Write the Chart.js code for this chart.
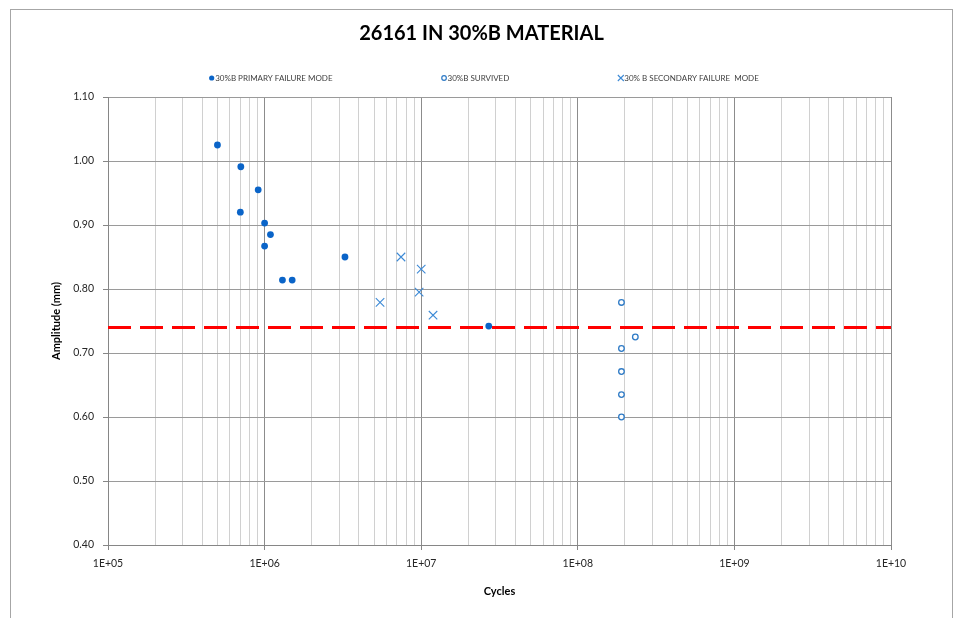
<!DOCTYPE html>
<html>
<head>
<meta charset="utf-8">
<script src="https://cdn.jsdelivr.net/npm/chart.js@4/dist/chart.umd.min.js"></script>
<style>
  html, body { margin: 0; padding: 0; background: #fff; }
  #wrap { width: 954px; height: 618px; position: relative; }
</style>
</head>
<body>
<div id="wrap"><canvas id="sn" width="954" height="618"></canvas></div>
<script>
// Data
const chartTitle = '26161 IN 30%B MATERIAL';
const seriesNames = ['30%B PRIMARY FAILURE MODE', '30%B SURVIVED', '30% B SECONDARY FAILURE  MODE'];

const primaryCycles = [5.0e5, 7.05e5, 9.1e5, 7.0e5, 1.0e6, 1.09e6, 1.0e6, 1.3e6, 1.5e6, 3.26e6, 2.7e7];
const primaryAmp = [1.025, 0.991, 0.955, 0.920, 0.903, 0.885, 0.867, 0.814, 0.814, 0.850, 0.742];

const survivedCycles = [1.9e8, 2.33e8, 1.9e8, 1.9e8, 1.9e8, 1.9e8];
const survivedAmp = [0.779, 0.725, 0.707, 0.671, 0.635, 0.600];

const secondaryCycles = [5.46e6, 7.43e6, 1.0e7, 9.7e6, 1.19e7];
const secondaryAmp = [0.779, 0.850, 0.831, 0.795, 0.759];

const limitAmp = 0.74;

const xMin = 1e5, xMax = 1e10;
const xTickLabels = ['1E+05', '1E+06', '1E+07', '1E+08', '1E+09', '1E+10'];
const yMin = 0.40, yMax = 1.10, yStep = 0.10;

const colPrimary = '#0a64c8';
const colSurvived = '#2f7bc6';
const colSecondary = '#3d8ad6';

const toPts = (xs, ys) => xs.map((x, i) => ({ x: x, y: ys[i] }));
const isDecade = v => Math.abs(Math.log10(v) - Math.round(Math.log10(v))) < 1e-9;

// Frame, title and legend
const decor = {
    id: 'decor',
    beforeDraw(chart) {
        const ctx = chart.ctx;
        ctx.save();
        ctx.strokeStyle = '#a6a6a6';
        ctx.lineWidth = 1;
        ctx.strokeRect(10.5, 9.5, 942, 640);
        ctx.restore();
    },
    afterDraw(chart) {
        const ctx = chart.ctx;
        ctx.save();
        ctx.fillStyle = '#000';
        ctx.font = 'bold 20px Lato';
        ctx.textAlign = 'center';
        ctx.textBaseline = 'middle';
        ctx.fillText(chartTitle, 481.5, 34);

        // legend
        ctx.font = '8px Lato';
        ctx.textAlign = 'left';
        const gap = 109, mark = 6;
        const widths = seriesNames.map(s => mark + ctx.measureText(s).width);
        const total = widths.reduce((a, b) => a + b, 0) + gap * (seriesNames.length - 1);
        let x = 484 - total / 2;
        const y = 78;
        seriesNames.forEach((name, i) => {
            const cx = x + 2.5;
            if (i === 0) {
                ctx.fillStyle = colPrimary;
                ctx.beginPath(); ctx.arc(cx, y, 2.6, 0, Math.PI * 2); ctx.fill();
            } else if (i === 1) {
                ctx.strokeStyle = colSurvived; ctx.lineWidth = 1.2;
                ctx.beginPath(); ctx.arc(cx, y, 2.3, 0, Math.PI * 2); ctx.stroke();
            } else {
                ctx.strokeStyle = colSecondary; ctx.lineWidth = 1.1;
                ctx.beginPath();
                ctx.moveTo(cx - 3, y - 3); ctx.lineTo(cx + 3, y + 3);
                ctx.moveTo(cx - 3, y + 3); ctx.lineTo(cx + 3, y - 3);
                ctx.stroke();
            }
            ctx.fillStyle = '#404040';
            ctx.fillText(name, x + mark, y + 0.5);
            x += widths[i] + gap;
        });
        ctx.restore();
    }
};

const ctx = document.getElementById('sn').getContext('2d');
new Chart(ctx, {
    type: 'scatter',
    data: {
        datasets: [
            {
                label: seriesNames[0],
                data: toPts(primaryCycles, primaryAmp),
                pointStyle: 'circle',
                pointRadius: 3.4,
                backgroundColor: colPrimary,
                borderColor: colPrimary,
                borderWidth: 0
            },
            {
                label: seriesNames[1],
                data: toPts(survivedCycles, survivedAmp),
                pointStyle: 'circle',
                pointRadius: 2.8,
                backgroundColor: '#fff',
                borderColor: colSurvived,
                borderWidth: 1.3
            },
            {
                label: seriesNames[2],
                data: toPts(secondaryCycles, secondaryAmp),
                pointStyle: 'crossRot',
                pointRadius: 6,
                borderColor: colSecondary,
                borderWidth: 1.1
            },
            {
                type: 'line',
                label: 'limit',
                data: [{ x: xMin, y: limitAmp }, { x: xMax, y: limitAmp }],
                borderColor: '#ff0000',
                borderWidth: 3,
                borderDash: [23, 9],
                pointRadius: 0,
                fill: false
            }
        ]
    },
    options: {
        responsive: false,
        animation: false,
        layout: { padding: { left: 10, right: 63, top: 97, bottom: 0 } },
        plugins: {
            legend: { display: false },
            title: { display: false },
            tooltip: { enabled: false }
        },
        scales: {
            x: {
                type: 'logarithmic',
                min: xMin,
                max: xMax,
                afterFit: s => { s.height = 73; },
                afterBuildTicks: s => {
                    const t = [];
                    for (let e = 5; e < 10; e++) {
                        for (let m = 1; m <= 9; m++) t.push({ value: m * Math.pow(10, e) });
                    }
                    t.push({ value: xMax });
                    s.ticks = t;
                },
                border: { color: '#868686', width: 1 },
                grid: {
                    color: c => (c.tick && isDecade(c.tick.value)) ? '#8c8c8c' : '#d0d0d0',
                    tickColor: c => (c.tick && isDecade(c.tick.value)) ? '#868686' : 'rgba(0,0,0,0)',
                    tickLength: 5
                },
                ticks: {
                    autoSkip: false,
                    maxRotation: 0,
                    padding: 7,
                    color: '#262626',
                    font: { family: 'Lato', size: 10.5 },
                    callback: v => isDecade(v) ? xTickLabels[Math.round(Math.log10(v)) - 5] : ''
                },
                title: {
                    display: true,
                    text: 'Cycles',
                    color: '#000',
                    font: { family: 'Lato', size: 11, weight: 'bold' },
                    padding: { top: 0, bottom: 20 }
                }
            },
            y: {
                min: yMin,
                max: yMax,
                afterFit: s => { s.width = 98; },
                border: { color: '#868686', width: 1 },
                grid: {
                    color: '#9a9a9a',
                    tickColor: '#868686',
                    tickLength: 5
                },
                ticks: {
                    stepSize: yStep,
                    padding: 9,
                    color: '#262626',
                    font: { family: 'Lato', size: 10.5 },
                    callback: v => v.toFixed(2)
                },
                title: {
                    display: true,
                    text: 'Amplitude (mm)',
                    color: '#000',
                    font: { family: 'Lato', size: 11, weight: 'bold' },
                    padding: { top: 40, bottom: 0 }
                }
            }
        }
    },
    plugins: [decor]
});
</script>
</body>
</html>
